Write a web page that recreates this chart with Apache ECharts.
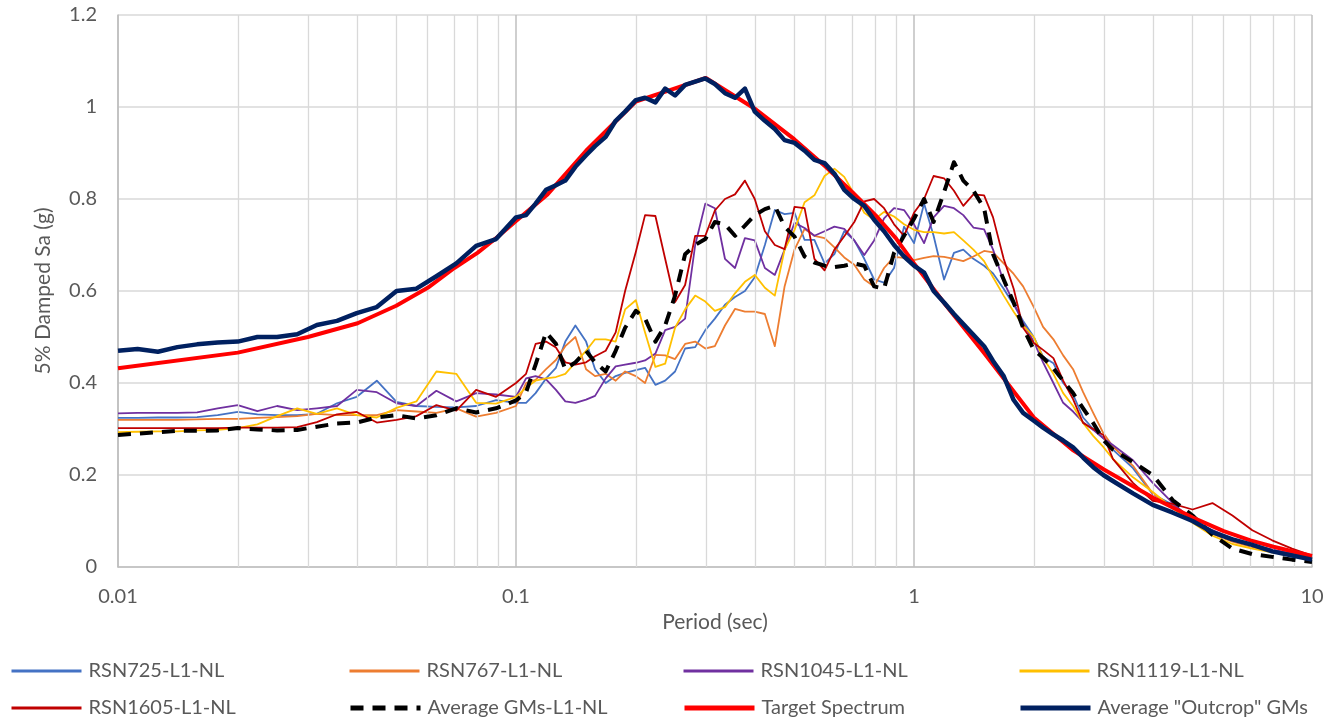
<!DOCTYPE html>
<html>
<head>
<meta charset="utf-8">
<script src="https://cdn.jsdelivr.net/npm/echarts@6/dist/echarts.min.js"></script>
<style>
html,body{margin:0;padding:0;background:#fff;}
#chart{width:1341px;height:722px;}
</style>
</head>
<body>
<div id="chart"></div>
<script>
// Periods (sec)
const periods = [
  0.01, 0.0112, 0.0126, 0.0141, 0.0158, 0.0178, 0.02, 0.0224, 0.0251, 0.0282,
  0.0316, 0.0355, 0.0398, 0.0447, 0.0501, 0.0562, 0.0631, 0.0708, 0.0794, 0.0891,
  0.1, 0.106, 0.112, 0.119, 0.126, 0.133, 0.141, 0.15, 0.158, 0.168,
  0.178, 0.188, 0.2, 0.211, 0.224, 0.237, 0.251, 0.266, 0.282, 0.299,
  0.316, 0.335, 0.355, 0.376, 0.398, 0.422, 0.447, 0.473, 0.501, 0.531,
  0.562, 0.596, 0.631, 0.668, 0.708, 0.75, 0.794, 0.841, 0.891, 0.944,
  1, 1.06, 1.12, 1.19, 1.26, 1.33, 1.41, 1.5, 1.58, 1.68,
  1.78, 1.88, 2, 2.11, 2.24, 2.37, 2.51, 2.66, 2.82, 2.99,
  3.16, 3.55, 3.98, 4.47, 5.01, 5.62, 6.31, 7.08, 7.94, 8.91, 10
];

const rsn725 = [
  0.324, 0.324, 0.325, 0.325, 0.326, 0.330, 0.337, 0.332, 0.330, 0.330,
  0.333, 0.356, 0.370, 0.405, 0.359, 0.350, 0.348, 0.347, 0.350, 0.363,
  0.357, 0.357, 0.378, 0.410, 0.433, 0.490, 0.525, 0.490, 0.430, 0.400,
  0.415, 0.422, 0.428, 0.433, 0.396, 0.405, 0.425, 0.475, 0.478, 0.515,
  0.540, 0.570, 0.587, 0.600, 0.630, 0.700, 0.776, 0.767, 0.770, 0.711,
  0.711, 0.660, 0.680, 0.730, 0.710, 0.670, 0.625, 0.618, 0.650, 0.740,
  0.704, 0.790, 0.720, 0.625, 0.683, 0.690, 0.670, 0.655, 0.638, 0.605,
  0.570, 0.535, 0.500, 0.457, 0.443, 0.400, 0.375, 0.325, 0.300, 0.280,
  0.255, 0.215, 0.158, 0.135, 0.105, 0.075, 0.057, 0.047, 0.038, 0.028, 0.020
];

const rsn767 = [
  0.320, 0.320, 0.320, 0.320, 0.321, 0.322, 0.322, 0.324, 0.326, 0.328,
  0.333, 0.330, 0.330, 0.330, 0.341, 0.338, 0.335, 0.345, 0.327, 0.335,
  0.350, 0.400, 0.407, 0.430, 0.450, 0.480, 0.500, 0.430, 0.415, 0.420,
  0.405, 0.425, 0.415, 0.400, 0.461, 0.460, 0.452, 0.485, 0.490, 0.475,
  0.480, 0.525, 0.561, 0.555, 0.555, 0.550, 0.480, 0.610, 0.690, 0.735,
  0.720, 0.715, 0.695, 0.673, 0.657, 0.625, 0.610, 0.650, 0.674, 0.672,
  0.667, 0.672, 0.676, 0.674, 0.670, 0.665, 0.675, 0.687, 0.684, 0.660,
  0.637, 0.610, 0.565, 0.522, 0.495, 0.460, 0.430, 0.380, 0.335, 0.291,
  0.262, 0.220, 0.160, 0.127, 0.102, 0.072, 0.055, 0.043, 0.035, 0.028, 0.022
];

const rsn1045 = [
  0.334, 0.335, 0.335, 0.335, 0.336, 0.345, 0.352, 0.339, 0.350, 0.341,
  0.345, 0.350, 0.385, 0.380, 0.356, 0.350, 0.383, 0.360, 0.378, 0.375,
  0.370, 0.410, 0.415, 0.408, 0.385, 0.360, 0.357, 0.364, 0.372, 0.410,
  0.436, 0.440, 0.444, 0.449, 0.464, 0.515, 0.522, 0.540, 0.700, 0.790,
  0.780, 0.670, 0.650, 0.715, 0.710, 0.650, 0.635, 0.690, 0.748, 0.737,
  0.720, 0.730, 0.740, 0.735, 0.710, 0.678, 0.710, 0.758, 0.780, 0.776,
  0.745, 0.704, 0.760, 0.785, 0.780, 0.765, 0.738, 0.734, 0.690, 0.620,
  0.575, 0.530, 0.490, 0.445, 0.400, 0.357, 0.338, 0.315, 0.298, 0.280,
  0.265, 0.232, 0.183, 0.139, 0.102, 0.080, 0.062, 0.048, 0.037, 0.029, 0.022
];

const rsn1119 = [
  0.293, 0.294, 0.295, 0.295, 0.297, 0.298, 0.302, 0.310, 0.328, 0.345,
  0.333, 0.345, 0.330, 0.325, 0.346, 0.360, 0.425, 0.420, 0.357, 0.355,
  0.370, 0.390, 0.405, 0.410, 0.413, 0.420, 0.445, 0.470, 0.495, 0.495,
  0.490, 0.560, 0.580, 0.510, 0.435, 0.442, 0.520, 0.560, 0.590, 0.577,
  0.557, 0.565, 0.595, 0.620, 0.635, 0.607, 0.590, 0.690, 0.733, 0.793,
  0.808, 0.850, 0.866, 0.848, 0.810, 0.770, 0.755, 0.772, 0.762, 0.745,
  0.733, 0.728, 0.728, 0.725, 0.728, 0.710, 0.690, 0.665, 0.630, 0.590,
  0.555, 0.525, 0.500, 0.455, 0.420, 0.378, 0.350, 0.313, 0.285, 0.261,
  0.235, 0.195, 0.163, 0.128, 0.096, 0.068, 0.050, 0.040, 0.032, 0.026, 0.020
];

const rsn1605 = [
  0.302, 0.302, 0.302, 0.302, 0.302, 0.302, 0.303, 0.303, 0.303, 0.304,
  0.315, 0.332, 0.337, 0.314, 0.320, 0.328, 0.352, 0.340, 0.385, 0.370,
  0.400, 0.420, 0.485, 0.490, 0.477, 0.445, 0.440, 0.445, 0.458, 0.470,
  0.510, 0.600, 0.685, 0.765, 0.763, 0.670, 0.576, 0.613, 0.720, 0.720,
  0.775, 0.800, 0.810, 0.840, 0.800, 0.730, 0.700, 0.691, 0.783, 0.780,
  0.670, 0.645, 0.690, 0.719, 0.750, 0.795, 0.800, 0.780, 0.745, 0.720,
  0.770, 0.800, 0.850, 0.845, 0.818, 0.785, 0.810, 0.808, 0.760, 0.670,
  0.605, 0.520, 0.487, 0.472, 0.454, 0.405, 0.365, 0.313, 0.300, 0.287,
  0.235, 0.183, 0.144, 0.137, 0.125, 0.139, 0.112, 0.080, 0.058, 0.040, 0.025
];

const avgGMs = [
  0.287, 0.290, 0.293, 0.296, 0.296, 0.297, 0.302, 0.299, 0.297, 0.298,
  0.305, 0.312, 0.314, 0.325, 0.330, 0.323, 0.330, 0.345, 0.336, 0.345,
  0.362, 0.380, 0.440, 0.510, 0.485, 0.430, 0.445, 0.470, 0.445, 0.425,
  0.470, 0.520, 0.557, 0.540, 0.490, 0.525, 0.590, 0.680, 0.700, 0.713,
  0.750, 0.745, 0.720, 0.742, 0.765, 0.778, 0.785, 0.740, 0.718, 0.675,
  0.662, 0.655, 0.652, 0.655, 0.660, 0.655, 0.610, 0.605, 0.683, 0.720,
  0.757, 0.800, 0.750, 0.815, 0.880, 0.840, 0.818, 0.780, 0.680, 0.625,
  0.575, 0.520, 0.472, 0.455, 0.432, 0.405, 0.378, 0.345, 0.313, 0.276,
  0.255, 0.228, 0.200, 0.145, 0.112, 0.070, 0.040, 0.028, 0.022, 0.016, 0.011
];

const avgOutcrop = [
  0.470, 0.474, 0.468, 0.478, 0.484, 0.488, 0.490, 0.500, 0.500, 0.506,
  0.526, 0.535, 0.552, 0.565, 0.600, 0.605, 0.632, 0.660, 0.698, 0.713,
  0.760, 0.765, 0.790, 0.820, 0.830, 0.840, 0.870, 0.895, 0.915, 0.935,
  0.970, 0.990, 1.015, 1.020, 1.010, 1.040, 1.025, 1.048, 1.055, 1.062,
  1.050, 1.030, 1.020, 1.040, 0.990, 0.970, 0.952, 0.928, 0.922, 0.905,
  0.885, 0.878, 0.855, 0.820, 0.800, 0.785, 0.755, 0.730, 0.700, 0.675,
  0.655, 0.640, 0.600, 0.575, 0.550, 0.528, 0.505, 0.480, 0.448, 0.415,
  0.363, 0.335, 0.318, 0.303, 0.288, 0.275, 0.260, 0.238, 0.217, 0.200,
  0.187, 0.160, 0.135, 0.118, 0.100, 0.076, 0.060, 0.048, 0.034, 0.025, 0.016
];

const targetPeriods = [0.01, 0.02, 0.03, 0.04, 0.05, 0.06, 0.07, 0.08, 0.09, 0.1, 0.12, 0.15, 0.2, 0.25, 0.3, 0.4, 0.5, 0.6, 0.7, 0.8, 0.9, 1, 1.2, 1.5, 2, 2.5, 3, 4, 5, 6, 7, 8, 10];
const targetSa = [0.432, 0.466, 0.500, 0.530, 0.568, 0.607, 0.650, 0.683, 0.718, 0.752, 0.810, 0.905, 1.012, 1.040, 1.063, 0.995, 0.930, 0.870, 0.815, 0.765, 0.715, 0.660, 0.570, 0.465, 0.325, 0.255, 0.212, 0.150, 0.108, 0.078, 0.058, 0.044, 0.024];

const seriesNames = ['RSN725-L1-NL', 'RSN767-L1-NL', 'RSN1045-L1-NL', 'RSN1119-L1-NL', 'RSN1605-L1-NL', 'Average GMs-L1-NL', 'Target Spectrum', 'Average "Outcrop" GMs'];
const minorPeriods = [0.02,0.03,0.04,0.05,0.06,0.07,0.08,0.09,0.2,0.3,0.4,0.5,0.6,0.7,0.8,0.9,2,3,4,5,6,7,8,9];

const FONT = 'Lato, "Open Sans", sans-serif';
const TXT = '#595959';

function pairs(xs, ys) { return xs.map((t, i) => [t, ys[i]]); }

const styles = [
  { color: '#4472C4', width: 1.8 },
  { color: '#ED7D31', width: 1.8 },
  { color: '#7030A0', width: 1.8 },
  { color: '#FFC000', width: 1.8 },
  { color: '#C00000', width: 1.8 },
  { color: '#000000', width: 4, type: [13, 9] },
  { color: '#FF0000', width: 4 },
  { color: '#002060', width: 4.5 }
];
const legendWidths = [3, 3, 3, 3, 3, 5, 5, 5];
const dataSets = [
  pairs(periods, rsn725), pairs(periods, rsn767), pairs(periods, rsn1045),
  pairs(periods, rsn1119), pairs(periods, rsn1605), pairs(periods, avgGMs),
  pairs(targetPeriods, targetSa), pairs(periods, avgOutcrop)
];

const series = [{
  name: 'minorgrid', type: 'line', data: [], silent: true, z: 0,
  markLine: {
    silent: true, symbol: 'none', label: { show: false },
    lineStyle: { color: '#d9d9d9', width: 1.3, type: 'solid' },
    emphasis: { disabled: true },
    data: minorPeriods.map(v => ({ xAxis: v }))
  }
}];
seriesNames.forEach((n, i) => {
  series.push({
    name: n, type: 'line', data: dataSets[i], symbol: 'none', showSymbol: false,
    smooth: false, z: 2 + i,
    lineStyle: Object.assign({ cap: 'butt', join: 'round' }, styles[i]),
    itemStyle: { color: styles[i].color },
    emphasis: { disabled: true }
  });
});

const legendCols = [5, 343, 677, 1013];
const legendRows = [656, 693];
const legends = seriesNames.map((n, i) => ({
  data: [n], left: legendCols[i % 4], top: legendRows[Math.floor(i / 4)],
  itemWidth: 70, itemHeight: 14, itemGap: 0, selectedMode: false,
  itemStyle: { opacity: 0 },
  lineStyle: { width: legendWidths[i] },
  textStyle: { fontFamily: FONT, fontSize: 20, color: TXT, padding: [0, 0, 0, 2] }
}));

const chart = echarts.init(document.getElementById('chart'), null, { renderer: 'canvas' });
chart.setOption({
  animation: false,
  backgroundColor: '#ffffff',
  grid: { left: 118, right: 29, top: 15, bottom: 155, containLabel: false },
  legend: legends,
  xAxis: {
    type: 'log', logBase: 10, min: 0.01, max: 10,
    name: 'Period (sec)', nameLocation: 'middle', nameGap: 34,
    nameTextStyle: { fontFamily: FONT, fontSize: 21, color: TXT },
    axisLine: { show: true, lineStyle: { color: '#bfbfbf', width: 1.5 } },
    axisTick: { show: false },
    axisLabel: { fontFamily: FONT, fontSize: 20, color: TXT, margin: 20 },
    splitLine: { show: true, lineStyle: { color: '#bfbfbf', width: 1.5 } },
    minorTick: { show: false }, minorSplitLine: { show: false }
  },
  yAxis: {
    type: 'value', min: 0, max: 1.2, interval: 0.2,
    name: '5% Damped Sa (g)', nameLocation: 'middle', nameGap: 64,
    nameTextStyle: { fontFamily: FONT, fontSize: 21, color: TXT },
    axisLine: { show: true, lineStyle: { color: '#bfbfbf', width: 1.5 } },
    axisTick: { show: false },
    axisLabel: { fontFamily: FONT, fontSize: 20, color: TXT, margin: 21,
      formatter: v => String(Math.round(v * 10) / 10) },
    splitLine: { show: true, lineStyle: { color: '#d9d9d9', width: 1.5 } }
  },
  series: series
});
</script>
</body>
</html>
